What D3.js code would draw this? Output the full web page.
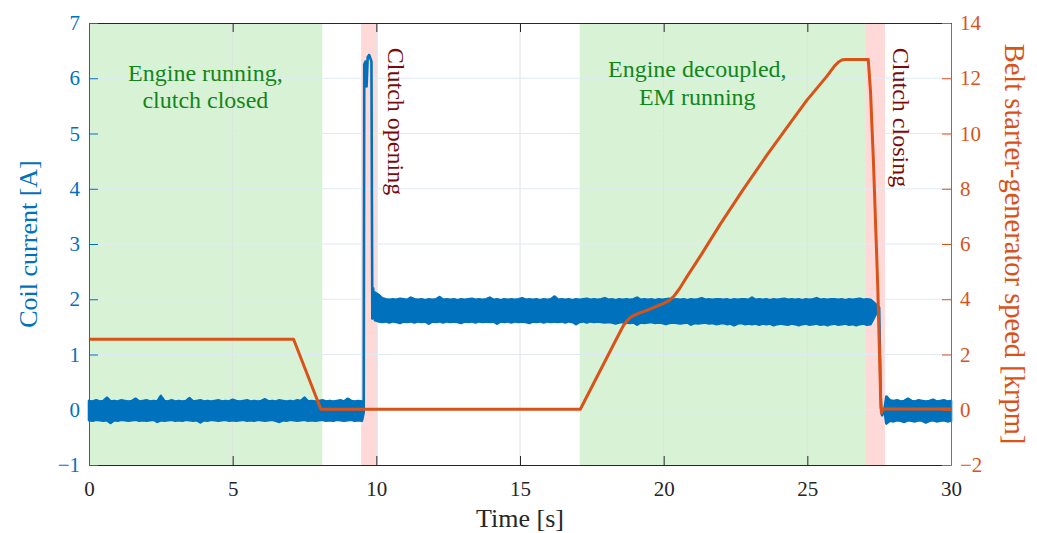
<!DOCTYPE html>
<html>
<head>
<meta charset="utf-8">
<script src="https://cdn.jsdelivr.net/npm/d3@7"></script>
<style>
  html, body { margin: 0; padding: 0; background: #fff; }
  svg { display: block; }
</style>
</head>
<body>
<svg id="chart" width="1037" height="533"></svg>
<script>
// ---------- DATA ----------
const xTicks = [0, 5, 10, 15, 20, 25, 30];
const leftTicks = [-1, 0, 1, 2, 3, 4, 5, 6, 7];
const rightTicks = [-2, 0, 2, 4, 6, 8, 10, 12, 14];

// phase shading [start, end] in seconds
const greenPhases = [[0, 8.12], [17.08, 27.04]];
const pinkPhases = [[9.47, 10.05], [27.04, 27.7]];

// annotations
const greenLabels = [
  { t: 4.05, v: [5.95, 5.46], lines: ["Engine running,", "clutch closed"] },
  { t: 21.17, v: [6.02, 5.52], lines: ["Engine decoupled,", "EM running"] }
];
const redLabels = [
  { t: 10.41, v: 6.55, text: "Clutch opening" },
  { t: 27.99, v: 6.55, text: "Clutch closing" }
];

// Coil current: noise band envelopes (A), sampled segments
const segAStart = 0, segAStep = 0.125;
const hiA = [0.16,0.15,0.17,0.15,0.16,0.22,0.15,0.16,0.15,0.17,0.16,0.15,0.16,0.2,0.15,0.16,
             0.17,0.15,0.16,0.15,0.25,0.16,0.15,0.17,0.15,0.16,0.15,0.16,0.21,0.15,0.16,0.17,
             0.15,0.16,0.15,0.16,0.17,0.15,0.16,0.15,0.18,0.16,0.15,0.16,0.17,0.15,0.16,0.15,
             0.16,0.19,0.15,0.16,0.15,0.17,0.16,0.15,0.16,0.15,0.17,0.16,0.22,0.15,0.16,0.15,
             0.16,0.17,0.15,0.16,0.15,0.16,0.17,0.15,0.2,0.16,0.15,0.16,0.15];
const loA = [-0.19,-0.2,-0.18,-0.19,-0.2,-0.19,-0.24,-0.19,-0.2,-0.18,-0.19,-0.2,-0.19,-0.18,-0.2,-0.19,
             -0.2,-0.19,-0.18,-0.22,-0.19,-0.2,-0.19,-0.18,-0.2,-0.19,-0.2,-0.18,-0.19,-0.2,-0.19,-0.23,
             -0.19,-0.2,-0.18,-0.19,-0.2,-0.19,-0.18,-0.2,-0.19,-0.2,-0.19,-0.18,-0.2,-0.19,-0.2,-0.18,
             -0.19,-0.2,-0.19,-0.18,-0.2,-0.22,-0.19,-0.2,-0.18,-0.19,-0.2,-0.19,-0.18,-0.2,-0.19,-0.2,
             -0.19,-0.18,-0.2,-0.19,-0.2,-0.18,-0.19,-0.2,-0.19,-0.18,-0.2,-0.19,-0.2];
// clutch-opening current pulse (t, A)
const pulseT = [9.56, 9.58, 9.62, 9.66, 9.7, 9.75, 9.8, 9.83, 9.86, 9.89, 9.92];
const pulseV = [-0.05, 6.25, 6.3, 5.85, 6.38, 6.42, 6.35, 6.3, 1.65, 2.2, 1.85];
const segBStart = 9.95, segBStep = 0.125;
const hiB = [2.12,2.08,2.02,2.0,1.99,2.0,1.99,2.01,2.0,1.99,2.03,2.0,1.99,2.0,1.98,2.0,
             1.99,2.0,2.04,1.99,2.0,1.99,2.0,1.98,2.0,1.99,2.0,2.01,1.99,2.0,1.99,2.0,
             2.03,1.99,2.0,1.98,2.0,1.99,2.0,1.99,2.0,2.02,1.99,2.0,1.99,2.0,1.98,2.0,
             1.99,2.0,2.05,1.99,2.0,1.99,2.0,1.98,2.0,1.99,2.0,2.01,1.99,2.0,1.99,2.0,
             2.02,1.99,2.0,1.98,2.0,1.99,2.0,1.99,2.0,2.03,1.99,2.0,1.99,2.0,1.98,2.0,
             1.99,2.0,2.01,1.99,2.0,1.99,2.0,1.98,2.0,1.99,2.0,2.02,1.99,2.0,1.99,2.0,
             2.0,1.99,2.0,1.98,2.0,1.99,2.0,2.0,1.99,2.03,1.99,2.0,1.99,2.0,1.98,2.0,
             1.99,2.0,2.01,1.99,2.0,1.99,2.0,1.98,2.0,1.99,2.0,2.02,1.99,2.0,1.99,2.0,
             2.0,1.99,2.0,1.98,2.0,1.99,2.0,2.01,1.99,2.0,1.99];
const loB = [1.62,1.6,1.59,1.6,1.58,1.6,1.59,1.57,1.6,1.59,1.6,1.58,1.6,1.59,1.6,1.56,
             1.6,1.59,1.6,1.58,1.6,1.59,1.6,1.59,1.57,1.6,1.59,1.6,1.58,1.6,1.59,1.6,
             1.59,1.6,1.56,1.6,1.59,1.6,1.58,1.6,1.59,1.6,1.59,1.57,1.6,1.59,1.6,1.58,
             1.6,1.59,1.6,1.59,1.6,1.58,1.6,1.59,1.55,1.59,1.6,1.58,1.6,1.59,1.6,1.59,
             1.58,1.59,1.58,1.56,1.58,1.59,1.58,1.57,1.58,1.54,1.58,1.57,1.58,1.59,1.57,1.58,
             1.57,1.55,1.57,1.58,1.57,1.56,1.57,1.58,1.54,1.57,1.56,1.57,1.58,1.56,1.57,1.55,
             1.56,1.57,1.55,1.56,1.53,1.56,1.57,1.55,1.56,1.55,1.56,1.54,1.56,1.55,1.56,1.53,
             1.55,1.56,1.55,1.54,1.56,1.55,1.53,1.55,1.56,1.54,1.55,1.56,1.54,1.55,1.53,1.55,
             1.56,1.54,1.55,1.56,1.54,1.55,1.53,1.55,1.56,1.54,1.55];
// clutch-closing current drop (t, A)
const dropT = [27.5, 27.56, 27.6, 27.68];
const dropV = [1.85, 0.05, -0.1, 0.0];
const segCStart = 27.75, segCStep = 0.125;
const hiC = [0.24,0.17,0.16,0.17,0.15,0.16,0.2,0.16,0.15,0.17,0.16,0.15,0.16,0.18,0.15,0.16,0.17,0.15,0.16];
const loC = [-0.25,-0.2,-0.21,-0.19,-0.2,-0.22,-0.19,-0.2,-0.21,-0.19,-0.2,-0.23,-0.2,-0.19,-0.21,-0.2,-0.19,-0.21,-0.2];

// Belt starter-generator speed (t [s], krpm)
const speedT = [0, 7.12, 8.07, 17.1, 18.4, 18.6, 18.75, 18.9, 19.1, 19.5, 20.0, 20.2, 20.35, 20.55, 20.8,
                21.27, 21.96, 22.77, 23.58, 24.28, 24.98, 25.67, 25.95, 26.1, 26.2, 26.3,
                27.12, 27.2, 27.3, 27.45, 27.55, 27.58, 27.63, 30];
const speedV = [2.55, 2.55, 0.02, 0.02, 2.65, 3.05, 3.25, 3.38, 3.48, 3.63, 3.85, 3.96, 4.1, 4.38, 4.8,
                5.55, 6.7, 7.98, 9.2, 10.2, 11.2, 12.06, 12.45, 12.6, 12.66, 12.68,
                12.68, 11.5, 9.0, 4.5, 0.5, -0.12, 0.03, 0.03];

// ---------- CHART ----------
const BLUE = "#0072BD", ORANGE = "#D95319", DARK = "#262626";
const FONT = "'Liberation Serif', 'DejaVu Serif', 'Noto Serif', FreeSerif, 'Nimbus Roman', Georgia, serif";
const svg = d3.select("#chart");
const L = 89, R = 951, T = 23, B = 465;
const x = d3.scaleLinear().domain([0, 30]).range([L, R]);
const yL = d3.scaleLinear().domain([-1, 7]).range([B, T]);
const yR = d3.scaleLinear().domain([-2, 14]).range([B, T]);

// phase patches
svg.append("g").selectAll("rect").data(greenPhases).join("rect")
  .attr("x", d => x(d[0])).attr("width", d => x(d[1]) - x(d[0]))
  .attr("y", T).attr("height", B - T).attr("fill", "#d8f2d6");
svg.append("g").selectAll("rect").data(pinkPhases).join("rect")
  .attr("x", d => x(d[0])).attr("width", d => x(d[1]) - x(d[0]))
  .attr("y", T).attr("height", B - T).attr("fill", "#ffd8d8");

// grid
svg.append("g").selectAll("line").data(xTicks.slice(1, -1)).join("line")
  .attr("x1", d => x(d)).attr("x2", d => x(d)).attr("y1", T).attr("y2", B)
  .attr("stroke", "#e2e2e2").attr("stroke-width", 1);
svg.append("g").selectAll("line").data(leftTicks.slice(1, -1)).join("line")
  .attr("x1", L).attr("x2", R).attr("y1", d => yL(d)).attr("y2", d => yL(d))
  .attr("stroke", "#dfeaf5").attr("stroke-width", 1.2);

// current band
const band = [];
hiA.forEach((h, i) => band.push({ t: segAStart + i * segAStep, hi: h, lo: loA[i] }));
pulseT.forEach((t, i) => band.push({ t, hi: pulseV[i], lo: pulseV[i] }));
hiB.forEach((h, i) => band.push({ t: segBStart + i * segBStep, hi: h, lo: loB[i] }));
dropT.forEach((t, i) => band.push({ t, hi: dropV[i], lo: dropV[i] }));
hiC.forEach((h, i) => band.push({ t: segCStart + i * segCStep, hi: h, lo: loC[i] }));

svg.append("path").datum(band.filter(d => d.t <= 30))
  .attr("d", d3.area().x(d => x(d.t)).y0(d => yL(d.lo)).y1(d => yL(d.hi)))
  .attr("fill", BLUE).attr("stroke", BLUE).attr("stroke-width", 2.6)
  .attr("stroke-linejoin", "round");

// speed line
const speed = speedT.map((t, i) => ({ t, v: speedV[i] }));
svg.append("path").datum(speed)
  .attr("d", d3.line().x(d => x(d.t)).y(d => yR(d.v)))
  .attr("fill", "none").attr("stroke", ORANGE).attr("stroke-width", 3)
  .attr("stroke-linejoin", "round");

// annotations
greenLabels.forEach(g => {
  g.lines.forEach((ln, i) => {
    svg.append("text").attr("x", x(g.t)).attr("y", yL(g.v[i]))
      .attr("text-anchor", "middle").attr("font-size", 24).attr("font-family", FONT)
      .attr("fill", "#13861a").text(ln);
  });
});
redLabels.forEach(r => {
  svg.append("text")
    .attr("transform", `translate(${x(r.t)},${yL(r.v)}) rotate(90)`)
    .attr("font-size", 24).attr("font-family", FONT).attr("fill", "#7a0a0a").text(r.text);
});

// axes
function styleAxis(g, color) {
  g.attr("font-family", FONT);
  g.selectAll("path.domain").attr("stroke", color).attr("stroke-width", 1);
  g.selectAll(".tick line").attr("stroke", color).attr("stroke-width", 1);
  g.selectAll(".tick text").attr("fill", color).attr("font-size", 21)
    .attr("font-family", FONT);
}
const gB = svg.append("g").attr("transform", `translate(0,${B})`)
  .call(d3.axisBottom(x).tickValues(xTicks).tickSize(-9).tickSizeOuter(0).tickPadding(16));
styleAxis(gB, DARK);
const gT = svg.append("g").attr("transform", `translate(0,${T})`)
  .call(d3.axisTop(x).tickValues(xTicks).tickSize(-9).tickSizeOuter(0).tickFormat(""));
styleAxis(gT, DARK);
const gL = svg.append("g").attr("transform", `translate(${L},0)`)
  .call(d3.axisLeft(yL).tickValues(leftTicks).tickSize(-9).tickSizeOuter(0).tickPadding(9));
styleAxis(gL, BLUE);
const gR = svg.append("g").attr("transform", `translate(${R},0)`)
  .call(d3.axisRight(yR).tickValues(rightTicks).tickSize(-9).tickSizeOuter(0).tickPadding(9));
styleAxis(gR, ORANGE);

// axis titles
svg.append("text").attr("x", (L + R) / 2).attr("y", 527).attr("font-family", FONT)
  .attr("text-anchor", "middle").attr("font-size", 26).attr("fill", DARK).text("Time [s]");
svg.append("text").attr("transform", `translate(37,${(T + B) / 2}) rotate(-90)`).attr("font-family", FONT)
  .attr("text-anchor", "middle").attr("font-size", 26).attr("fill", BLUE).text("Coil current [A]");
svg.append("text").attr("transform", `translate(1005,${(T + B) / 2}) rotate(90)`).attr("font-family", FONT)
  .attr("text-anchor", "middle").attr("font-size", 28.5).attr("fill", ORANGE)
  .text("Belt starter-generator speed [krpm]");
</script>
</body>
</html>
